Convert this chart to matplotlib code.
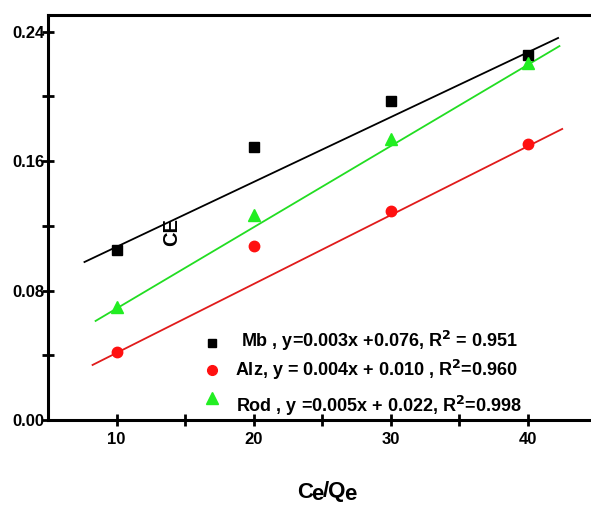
import matplotlib
matplotlib.use("Agg")
import matplotlib.pyplot as plt
from matplotlib.lines import Line2D
import numpy as np

plt.rcParams['font.family'] = ['Liberation Sans', 'DejaVu Sans']
plt.rcParams['font.weight'] = 'bold'

x = [10, 20, 30, 40]
mb = [0.105, 0.1687, 0.197, 0.2255]
alz = [0.042, 0.1075, 0.129, 0.1705]
rod = [0.0698, 0.1266, 0.1736, 0.2205]

# fitted line end points
mb_fit_x = [7.66, 42.2]
mb_fit_y = [0.0976, 0.236]
alz_fit_x = [8.25, 42.5]
alz_fit_y = [0.034, 0.1798]
rod_fit_x = [8.47, 42.3]
rod_fit_y = [0.0612, 0.231]

labels = ["Mb , y=0.003x +0.076, R$^2$ = 0.951",
          "Alz, y = 0.004x + 0.010 , R$^2$=0.960",
          "Rod , y =0.005x + 0.022, R$^2$=0.998"]

W, H = 591, 512
fig = plt.figure(figsize=(W/100, H/100), dpi=100)
ax = fig.add_axes([48/W, (H-420)/H, 1-48/W, 405/H])

ax.plot(mb_fit_x, mb_fit_y, color='black', lw=1.3)
ax.plot(rod_fit_x, rod_fit_y, color='#22dd22', lw=1.3)
ax.plot(alz_fit_x, alz_fit_y, color='#e01b1b', lw=1.3)
ax.plot(x, mb, 's', color='black', ms=6.8)
ax.plot(x, rod, '^', color='#22ee22', ms=9)
ax.plot(x, alz, 'o', color='#ff1010', ms=7.5)

ax.set_xlim(5, 44.6)
ax.set_ylim(0, 0.2502)
ax.set_xticks([10, 20, 30, 40])
ax.set_xticks([15, 25, 35], minor=True)
ax.set_yticks([0.0, 0.08, 0.16, 0.24])
ax.set_yticklabels(['0.00', '0.08', '0.16', '0.24'])
ax.set_yticks([0.04, 0.12, 0.20], minor=True)
ax.tick_params(which='both', direction='inout', width=2, labelsize=12)
ax.tick_params(which='major', length=9)
ax.tick_params(which='minor', length=8)
ax.tick_params(axis='y', pad=-2)
ax.tick_params(axis='x', pad=4)
for lbl in ax.get_xticklabels() + ax.get_yticklabels():
    lbl.set_fontweight('bold')
for s in ['left', 'top', 'bottom']:
    ax.spines[s].set_linewidth(2.2)
ax.spines['right'].set_visible(False)

ax.text(172/W, (H-232)/H, "CE", transform=fig.transFigure, rotation=90,
        ha='center', va='center', fontsize=14.5, fontweight='bold')

# x label "Ce/Qe" with lowered e's
renderer = fig.canvas.get_renderer()
pieces = [("C", 0), ("e", -3), ("/Q", 0), ("e", -3)]
xpos = 297.0
for txt, dy in pieces:
    t = fig.text(xpos/W, (H-492+dy)/H, txt, ha='left', va='center',
                 fontsize=16, fontweight='bold')
    bb = t.get_window_extent(renderer=renderer)
    xpos += bb.width - 1.5

# legend
mk = [('s', 'black', 6), ('o', '#ff1010', 7), ('^', '#22ee22', 8)]
my = [343, 370, 398]
ty = [341, 370, 406]
tx = [241, 235, 236]
for (m, c, s), yy, tyy, txx, lab in zip(mk, my, ty, tx, labels):
    fig.add_artist(Line2D([212/W], [(H-yy)/H], marker=m, color=c, ms=s,
                          transform=fig.transFigure, linestyle='none'))
    fig.text(txx/W, (H-tyy)/H, lab, ha='left', va='center', fontsize=13,
             fontweight='bold')

fig.savefig("out.png", dpi=100)
